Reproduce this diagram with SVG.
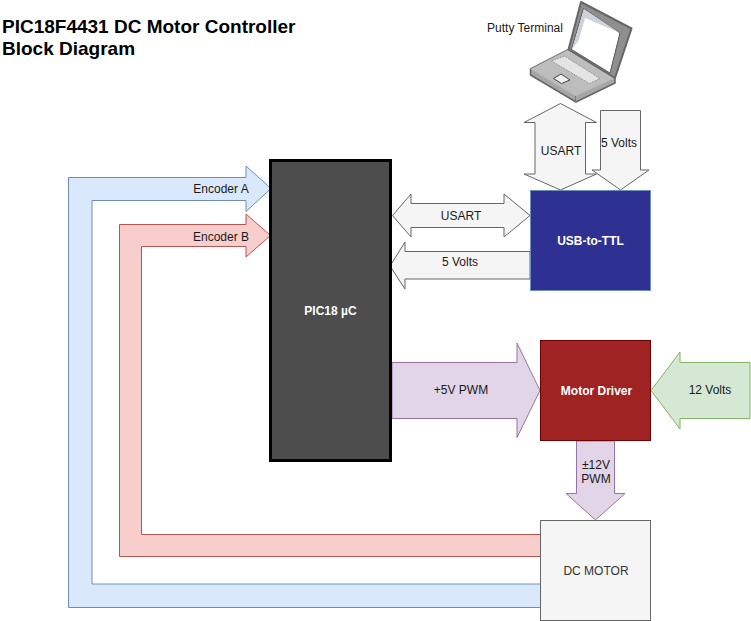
<svg xmlns="http://www.w3.org/2000/svg" width="751" height="621" viewBox="0 0 751 621">
<style>
text{font-family:"Liberation Sans",Arial,sans-serif;font-size:12px;fill:#1a1a1a;text-anchor:middle}
.blue{fill:#dae8fc;stroke:#6c8ebf}
.red{fill:#f8cecc;stroke:#b85450}
.pur{fill:#e1d5e7;stroke:#9673a6}
.grn{fill:#d5e8d4;stroke:#82b366}
.gry{fill:#f5f5f5;stroke:#666666}
.w{fill:#ffffff;font-weight:bold}
.title{font-size:19px;font-weight:bold;text-anchor:start;fill:#000}
</style>
<g id="connectors">
<g id="encoder-a"><path class="blue" d="M540.500 607.500H68.500V177.500H246V166L271 188.500L246 211.500V200.500H92V584H540.500Z"/><text x="221" y="193">Encoder A</text></g>
<g id="encoder-b"><path class="red" d="M540.500 556.500H119.500V224.500H246V214L270.500 235.500L246 257V246.500H141.500V534.500H540.500Z"/><text x="221" y="241">Encoder B</text></g>
<g id="usart-h"><path class="gry" d="M392.500 215.500L411 194V203.500H504V194L530 215.500L504 237V227.500H411V237Z"/><text x="461" y="220">USART</text></g>
<g id="volts-usb"><path class="gry" d="M530 279H405V289L390 266L405 242V251.500H530Z"/><text x="460" y="266">5 Volts</text></g>
<g id="pwm-5v"><path class="pur" d="M392 362.500H517V343L540 390.500L517 437.500V418.500H392Z"/><text x="461" y="394">+5V PWM</text></g>
<g id="volts-12"><path class="grn" d="M750 362.500H680V352L651 390.500L680 429V418.500H750Z"/><text x="710" y="394">12 Volts</text></g>
<g id="pwm-12v"><path class="pur" d="M576.500 441V493.500H566L595.500 520L625 493.500H614.500V441Z"/><text x="596" y="469">±12V</text><text x="596" y="483">PWM</text></g>
<g id="usart-v"><path class="gry" d="M560.500 103.500L596.500 122.500H585.500V174H596.500L560.500 190L524 174H535V122.500H524Z"/><text x="561" y="155">USART</text></g>
<g id="volts-laptop"><path class="gry" d="M600.500 110.500H640.500V170H649L620.500 190L592 170H600.500Z"/><text x="619" y="147">5 Volts</text></g>
</g>
<g id="pic"><rect x="270.500" y="160.500" width="120" height="300" fill="#4d4d4d" stroke="#000" stroke-width="3"/><text class="w" x="330.500" y="315">PIC18 µC</text></g>
<g id="usb-ttl"><rect x="530.500" y="190.500" width="120" height="100" fill="#2e3192" stroke="#6c8ebf"/><text class="w" x="590.500" y="245">USB-to-TTL</text></g>
<g id="motor-driver"><rect x="540.500" y="340.500" width="110" height="100" fill="#a02323" stroke="#6f0000"/><text class="w" x="596.500" y="395">Motor Driver</text></g>
<g id="dc-motor"><rect class="gry" x="540.500" y="520.500" width="110" height="100"/><text x="596" y="575" style="fill:#333">DC MOTOR</text></g>
<g id="laptop">
<path d="M530.500 69L568.500 49.500L615 78V83L576 102L530.500 75Z" fill="#a6a6a6" stroke="#666" stroke-width="1.500" stroke-linejoin="round"/>
<path d="M530.500 69L575.500 96L615 78L568.500 49.500Z" fill="#bdbdbd"/>
<path d="M575.500 96V102" stroke="#777" fill="none"/>
<path d="M568.500 49.500L581 2L631.500 28.500L615 78Z" fill="#8f8f8f" stroke="#666" stroke-width="2" stroke-linejoin="round"/>
<path d="M571.500 49.500L583.500 8.500L620 33L610 73Z" fill="#ffffff" stroke="#555"/>
<path d="M584 9L572 49L579 40L585 18L620 33Z" fill="#cdd3da"/>
<path d="M551.500 61L564.500 56L600 78.500L589.500 83.500Z" fill="#e4e4e4" stroke="#999" stroke-dasharray="2 1"/>
<path d="M553.500 78.500L561 74L570 80L561.500 83.500Z" fill="#f0f0f0" stroke="#444"/>
<text x="525" y="32">Putty Terminal</text>
</g>
<g id="title"><text class="title" x="2" y="33">PIC18F4431 DC Motor Controller</text><text class="title" x="2" y="55">Block Diagram</text></g>
</svg>
